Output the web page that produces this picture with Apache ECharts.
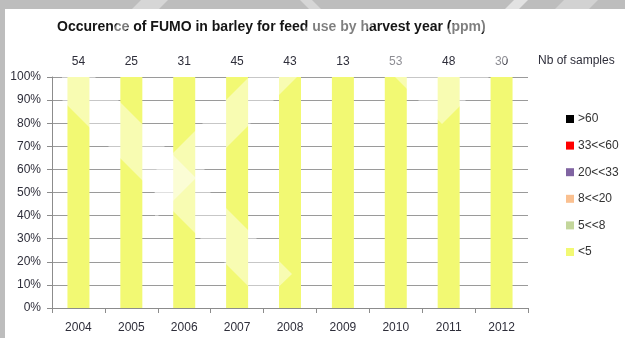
<!DOCTYPE html>
<html>
<head>
<meta charset="utf-8">
<script src="https://cdn.jsdelivr.net/npm/echarts@6/dist/echarts.min.js"></script>
<style>
  html, body { margin: 0; padding: 0; background: #ffffff; }
  #chart { width: 625px; height: 338px; }
</style>
</head>
<body>
<div id="chart"></div>
<script>
// Harvest years and number of barley samples analysed each year
const years = ['2004', '2005', '2006', '2007', '2008', '2009', '2010', '2011', '2012'];
const sampleCounts = [54, 25, 31, 45, 43, 13, 53, 48, 30];

// Share of samples (%) in each FUMO concentration class (ppm)
const shareBelow5  = [100, 100, 100, 100, 100, 100, 100, 100, 100];
const share5to8    = [0, 0, 0, 0, 0, 0, 0, 0, 0];
const share8to20   = [0, 0, 0, 0, 0, 0, 0, 0, 0];
const share20to33  = [0, 0, 0, 0, 0, 0, 0, 0, 0];
const share33to60  = [0, 0, 0, 0, 0, 0, 0, 0, 0];
const shareAbove60 = [0, 0, 0, 0, 0, 0, 0, 0, 0];

// Y axis ticks (percent)
const yTicks = { min: 0, max: 100, step: 10 };

const FONT = 'Liberation Sans';
const classes = [
  { name: '<5',     data: shareBelow5,  color: '#f2f973' },
  { name: '5<<8',   data: share5to8,    color: '#c3d69b' },
  { name: '8<<20',  data: share8to20,   color: '#fac090' },
  { name: '20<<33', data: share20to33,  color: '#8064a2' },
  { name: '33<<60', data: share33to60,  color: '#ff0000' },
  { name: '>60',    data: shareAbove60, color: '#000000' }
];

const haze = 'rgba(255,255,255,0.45)';
const hazeShape = (pts) => ({ type: 'polygon', shape: { points: pts }, style: { fill: haze }, z: 100, silent: true });

const chart = echarts.init(document.getElementById('chart'), null, { renderer: 'canvas' });
chart.setOption({
  animation: false,
  backgroundColor: '#ffffff',
  textStyle: { fontFamily: FONT },
  title: {
    text: 'Occurence of FUMO in barley for feed use by harvest year (ppm)',
    left: 52, top: 15,
    textStyle: { fontFamily: FONT, fontSize: 14, fontWeight: 'bold', color: '#151515' }
  },
  legend: {
    orient: 'vertical',
    left: 561, top: 107,
    itemWidth: 8, itemHeight: 8, itemGap: 12.6,
    icon: 'rect',
    data: ['>60', '33<<60', '20<<33', '8<<20', '5<<8', '<5'],
    textStyle: { fontFamily: FONT, fontSize: 12, color: '#333333', lineHeight: 14, padding: [0, 0, 0, -1] }
  },
  grid: { left: 52, right: 97, top: 77, bottom: 30, containLabel: false },
  xAxis: [
    {
      type: 'category', data: years, position: 'bottom',
      axisLine: { lineStyle: { color: '#8c8c8c' } },
      axisTick: { show: true, length: 5, lineStyle: { color: '#8c8c8c' } },
      axisLabel: { margin: 14, fontSize: 12, color: '#2e2e3a', fontFamily: FONT }
    },
    {
      type: 'category', data: sampleCounts.map(String), position: 'top',
      axisLine: { show: false }, axisTick: { show: false },
      axisLabel: { margin: 9, fontSize: 12, color: '#2e2e3a', fontFamily: FONT }
    }
  ],
  yAxis: {
    type: 'value', min: yTicks.min, max: yTicks.max, interval: yTicks.step,
    axisLine: { show: true, lineStyle: { color: '#8c8c8c' } },
    axisTick: { show: true, length: 5, lineStyle: { color: '#8c8c8c' } },
    axisLabel: { margin: 11, fontSize: 12, color: '#2e2e3a', fontFamily: FONT, formatter: '{value}%' },
    splitLine: { show: true, lineStyle: { color: '#9a9a9a', width: 1 } }
  },
  series: classes.map(c => ({
    name: c.name, type: 'bar', stack: 'share', xAxisIndex: 0,
    data: c.data, barWidth: 22,
    itemStyle: { color: c.color }
  })),
  graphic: [
    // slide frame
    { type: 'rect', shape: { x: 0, y: 0, width: 625, height: 9 }, style: { fill: '#bdbdbd' }, z: 90 },
    { type: 'rect', shape: { x: 0, y: 0, width: 5, height: 338 }, style: { fill: '#bdbdbd' }, z: 90 },
    { type: 'polygon', shape: { points: [[132, 9], [141, 0], [168, 0], [159, 9]] }, style: { fill: '#d6d6d6' }, z: 91 },
    { type: 'polygon', shape: { points: [[300, 0], [312, 0], [321, 9], [309, 9]] }, style: { fill: '#d6d6d6' }, z: 91 },
    { type: 'polygon', shape: { points: [[505, 9], [514, 0], [528, 0], [519, 9]] }, style: { fill: '#e2e2e2' }, z: 91 },
    { type: 'polygon', shape: { points: [[555, 9], [564, 0], [598, 0], [589, 9]] }, style: { fill: '#d2d2d2' }, z: 91 },
    // "Nb of samples" caption beside the count row
    { type: 'text', left: 538, top: 55, style: { text: 'Nb of samples', font: '12px "' + FONT + '"', fill: '#2e2e3a' }, z: 50 },
    // translucent light bands across the plot and heading
    hazeShape([[62, 72], [90, 72], [292, 274], [263.5, 301.5], [62, 100]]),
    hazeShape([[155, 171], [250, 76], [298, 76], [155, 219]]),
    hazeShape([[358, 40], [442, 124], [526, 40], [478, 40], [442, 76], [406, 40]]),
    hazeShape([[108, 36], [124, 14], [137, 14], [121, 36]]),
    hazeShape([[298, 36], [320, 14], [383, 14], [361, 36]]),
    hazeShape([[441, 36], [463, 14], [501, 14], [479, 36]])
  ]
});
</script>
</body>
</html>
